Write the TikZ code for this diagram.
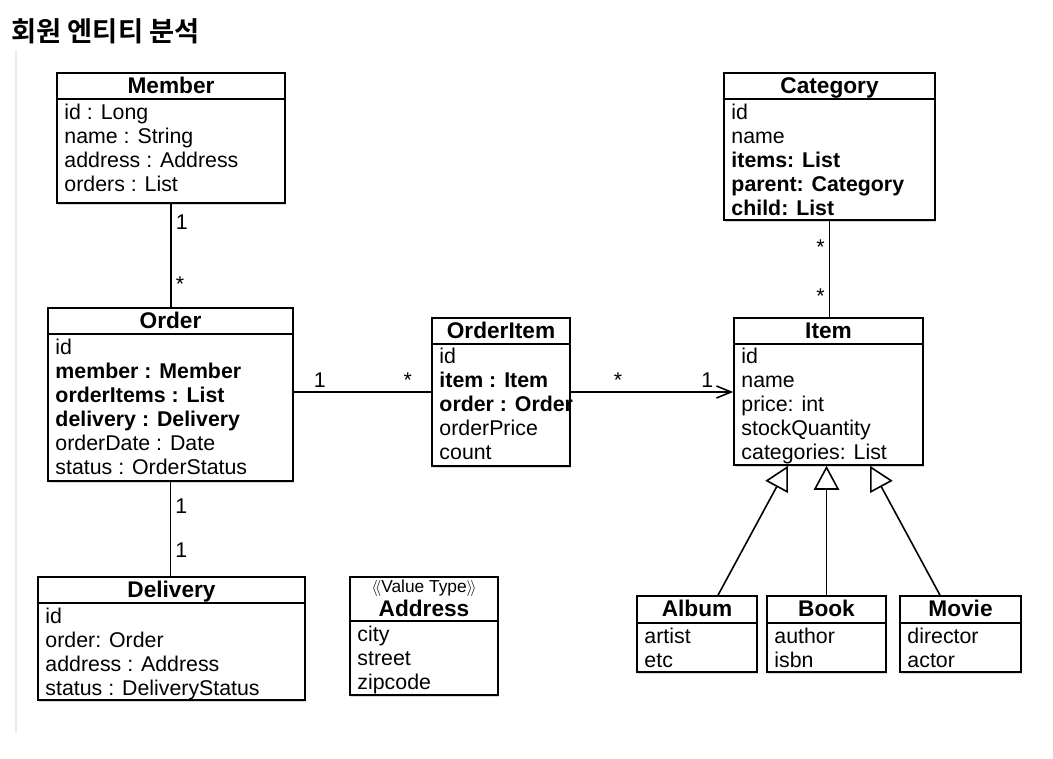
\documentclass[tikz,border=0pt]{standalone}
\usepackage{fontspec}
\setmainfont{Liberation Sans}
\newfontfamily\krfont{Noto Sans CJK KR Bold}
\usetikzlibrary{positioning,calc,fit,shadows,arrows.meta}

\tikzset{
  classbox/.style={draw,line width=1.2pt,fill=white,inner sep=0pt,
    drop shadow={shadow xshift=1pt,shadow yshift=-1.3pt,opacity=.3}},
  sepline/.style={line width=1.2pt},
  cname/.style={anchor=base,font=\bfseries\fontsize{17}{19}\selectfont,inner sep=0pt},
  stereo/.style={font=\fontsize{13}{14}\selectfont,inner sep=0pt},
  attrs/.style={anchor=north west,align=left,inner sep=0pt,font=\fontsize{16}{18}\selectfont},
  mult/.style={font=\fontsize{16}{18}\selectfont,inner sep=3pt},
  assoc/.style={line width=1.2pt},
  navi/.style={line width=1.2pt,-{Straight Barb[length=11pt,width=9pt,line width=1.2pt]}},
  gen/.style={line width=1.2pt,-{Triangle[open,length=18pt,width=19pt,fill=white,line width=1.2pt]}}
}

\begin{document}
\begin{tikzpicture}[x=0.75pt,y=-0.75pt]
\useasboundingbox (0,0) rectangle (1053,759);
\fill[white] (0,0) rectangle (1053,759);

% title
\node[anchor=west,inner sep=0pt,font=\krfont\fontsize{20.5}{22}\selectfont] (title) at (11,31) {회원 엔티티 분석};
\draw[black!8,line width=1pt] (16,50) -- (16,733);

% Member
\node[classbox,fit={(57,73) (285,203)}] (member) {};
\draw[sepline] ($(member.north west)+(0,27)$) -- ($(member.north east)+(0,27)$);
\node[cname] (memberT) at ($(member.north)+(0,21)$) {Member};
\node[attrs] (memberA) at ($(member.north west)+(8,31.5)$) {id : Long\\name : String\\address : Address\\orders : List};

% Order
\node[classbox,fit={(48,308) (293,481)}] (order) {};
\draw[sepline] ($(order.north west)+(0,27)$) -- ($(order.north east)+(0,27)$);
\node[cname] (orderT) at ($(order.north)+(0,21)$) {Order};
\node[attrs] (orderA) at ($(order.north west)+(8,32)$) {id\\\textbf{member : Member}\\\textbf{orderItems : List}\\\textbf{delivery : Delivery}\\orderDate : Date\\status : OrderStatus};

% Delivery
\node[classbox,fit={(38,577) (305,700)}] (delivery) {};
\draw[sepline] ($(delivery.north west)+(0,27)$) -- ($(delivery.north east)+(0,27)$);
\node[cname] (deliveryT) at ($(delivery.north)+(0,21)$) {Delivery};
\node[attrs] (deliveryA) at ($(delivery.north west)+(8,31.5)$) {id\\order: Order\\address : Address\\status : DeliveryStatus};

% Address
\node[classbox,fit={(350,577) (498,695)}] (address) {};
\draw[sepline] ($(address.north west)+(0,45)$) -- ($(address.north east)+(0,45)$);
\node[stereo] (addressS) at ($(address.north)+(0,12)$) {$\langle\!\langle$Value Type$\rangle\!\rangle$};
\node[cname] (addressT) at ($(address.north)+(0,40)$) {Address};
\node[attrs] (addressA) at ($(address.north west)+(8,49.5)$) {city\\street\\zipcode};

% OrderItem
\node[classbox,fit={(432,318) (570,466)}] (oitem) {};
\draw[sepline] ($(oitem.north west)+(0,27)$) -- ($(oitem.north east)+(0,27)$);
\node[cname] (oitemT) at ($(oitem.north)+(0,21)$) {OrderItem};
\node[attrs] (oitemA) at ($(oitem.north west)+(8,30.5)$) {id\\\textbf{item : Item}\\\textbf{order : Order}\\orderPrice\\count};

% Item
\node[classbox,fit={(734,318) (923,465)}] (item) {};
\draw[sepline] ($(item.north west)+(0,27)$) -- ($(item.north east)+(0,27)$);
\node[cname] (itemT) at ($(item.north)+(0,21)$) {Item};
\node[attrs] (itemA) at ($(item.north west)+(8,30.5)$) {id\\name\\price: int\\stockQuantity\\categories: List};

% Category
\node[classbox,fit={(724,73) (935,220)}] (category) {};
\draw[sepline] ($(category.north west)+(0,27)$) -- ($(category.north east)+(0,27)$);
\node[cname] (categoryT) at ($(category.north)+(0,21)$) {Category};
\node[attrs] (categoryA) at ($(category.north west)+(8,31.5)$) {id\\name\\\textbf{items: List}\\\textbf{parent: Category}\\\textbf{child: List}};

% Album, Book, Movie
\node[classbox,fit={(637,596) (757,672)}] (album) {};
\draw[sepline] ($(album.north west)+(0,28)$) -- ($(album.north east)+(0,28)$);
\node[cname] (albumT) at ($(album.north)+(0,21.5)$) {Album};
\node[attrs] (albumA) at ($(album.north west)+(8,32.5)$) {artist\\etc};

\node[classbox,fit={(767,596) (886,672)}] (book) {};
\draw[sepline] ($(book.north west)+(0,28)$) -- ($(book.north east)+(0,28)$);
\node[cname] (bookT) at ($(book.north)+(0,21.5)$) {Book};
\node[attrs] (bookA) at ($(book.north west)+(8,32.5)$) {author\\isbn};

\node[classbox,fit={(900,596) (1021,672)}] (movie) {};
\draw[sepline] ($(movie.north west)+(0,28)$) -- ($(movie.north east)+(0,28)$);
\node[cname] (movieT) at ($(movie.north)+(0,21.5)$) {Movie};
\node[attrs] (movieA) at ($(movie.north west)+(8,32.5)$) {director\\actor};

% associations
\draw[assoc] (member.south) -- node[mult,pos=.18,right] (mo1) {1} node[mult,pos=.78,right] (mo2) {*} (member.south |- order.north);
\draw[assoc] (order.south) -- node[mult,pos=.26,right] (od1) {1} node[mult,pos=.72,right] (od2) {1} (order.south |- delivery.north);
\draw[assoc] (oitem.west -| order.east) -- node[mult,pos=.19,above] (oo1) {1} node[mult,pos=.83,above] (oo2) {*} (oitem.west);
\draw[navi] (oitem.east) -- node[mult,pos=.29,above] (oi1) {*} node[mult,pos=.84,above] (oi2) {1} (oitem.east -| item.west);
\draw[assoc] (category.south) -- node[mult,pos=.27,left] (ci1) {*} node[mult,pos=.78,left] (ci2) {*} (category.south |- item.north);

% generalization
\draw[gen] ($(album.north)+(21,0)$) -- ($(item.south)+(-40.5,0)$);
\draw[gen] (book.north) -- (book.north |- item.south);
\draw[gen] ($(movie.north)+(-20.5,0)$) -- ($(item.south)+(41.5,0)$);
\end{tikzpicture}
\end{document}
